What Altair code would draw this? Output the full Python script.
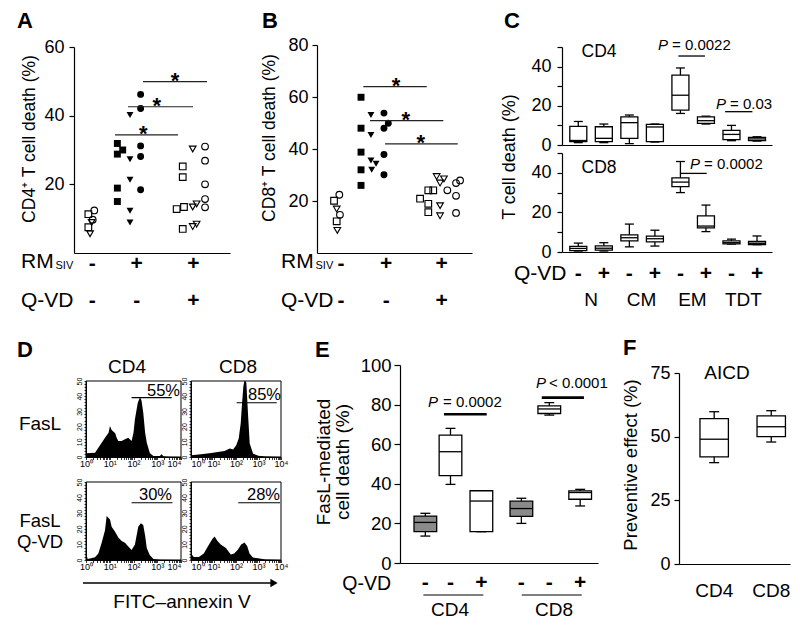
import altair as alt
import pandas as pd

FONT = "Liberation Sans"
W, H = 784, 613
M = 8


def P(v):
    return v - M


SHAPES = {'o': 'circle', 's': 'square', 'v': 'triangle-down'}

# ---------------- Panel A : CD4+ T cell death ----------------
A_pos = [1.30, 0.92, 1.20, 1.13, 0.92, 1.03,
         2.78, 3.12, 2.78, 2.78, 2.78, 3.59, 3.59, 3.59, 3.59, 3.59, 4.27, 4.27, 4.27, 4.27, 4.27,
         6.97, 6.97, 6.58, 7.05, 6.97, 7.61, 7.61, 7.86, 7.61, 7.86, 8.40, 8.40, 8.40, 8.40, 8.40]
A_val = [12.4, 11.3, 9.7, 8.9, 7.5, 5.6,
         31.9, 30.0, 28.8, 18.9, 15.0, 40.2, 27.3, 21.3, 12.3, 8.9, 46.2, 42.1, 31.2, 28.1, 18.4,
         25.2, 22.1, 12.8, 13.4, 7.0, 30.3, 13.4, 14.3, 7.7, 8.4, 31.0, 26.9, 20.0, 15.7, 13.3]
A_sym = ['o', 's', 'o', 'v', 's', 'v',
         's', 's', 's', 's', 's', 'v', 'v', 'v', 'v', 'v', 'o', 'o', 'o', 'o', 'o',
         's', 's', 's', 's', 's', 'v', 'v', 'v', 'v', 'v', 'o', 'o', 'o', 'o', 'o']
A_fill = [0, 0, 0, 0, 0, 0,
          1, 1, 1, 1, 1, 1, 1, 1, 1, 1, 1, 1, 1, 1, 1,
          0, 0, 0, 0, 0, 0, 0, 0, 0, 0, 0, 0, 0, 0, 0]
A_sig_x1 = [2.63, 3.46, 4.42]
A_sig_x2 = [6.67, 7.63, 8.53]
A_sig_y = [34.4, 42.6, 49.9]
A_star_x = [4.44, 5.30, 6.47]
A_lab_x = [1.17, 4.02, 7.65]
A_rm = ['-', '+', '+']
A_qvd = ['-', '-', '+']

# ---------------- Panel B : CD8+ T cell death ----------------
B_pos = [1.44, 1.10, 1.27, 1.48, 1.27, 1.31,
         2.84, 2.84, 2.84, 2.84, 2.84, 3.48, 3.48, 3.48, 3.81, 3.53, 4.32, 4.60, 4.32, 4.32, 4.32,
         7.18, 7.50, 6.65, 7.18, 7.18, 7.72, 8.19, 7.94, 7.94, 7.94, 8.41, 8.97, 9.23, 8.97, 8.97]
B_val = [22.4, 20.1, 16.9, 14.7, 12.2, 8.7,
         59.9, 48.0, 38.8, 32.0, 26.0, 53.1, 45.4, 35.6, 34.3, 32.0, 53.8, 49.9, 48.0, 37.9, 30.1,
         24.1, 24.1, 20.9, 18.9, 15.7, 29.4, 28.5, 26.9, 18.2, 14.3, 24.1, 26.9, 27.9, 22.0, 15.4]
B_sym = ['o', 's', 'v', 'o', 's', 'v',
         's', 's', 's', 's', 's', 'v', 'v', 'v', 'v', 'v', 'o', 'o', 'o', 'o', 'o',
         's', 's', 's', 's', 's', 'v', 'v', 'v', 'v', 'v', 'o', 'o', 'o', 'o', 'o']
B_fill = A_fill
B_sig_x1 = [2.99, 3.42, 4.39]
B_sig_x2 = [7.08, 8.15, 9.08]
B_sig_y = [64.0, 50.9, 42.0]
B_star_x = [5.10, 5.72, 6.69]
B_lab_x = [1.55, 4.46, 8.04]
B_rm = ['-', '+', '+']
B_qvd = ['-', '-', '+']

# ---------------- Panel C : subsets ----------------
C_pos = [1, 2, 3, 4, 5, 6, 7, 8]
C4_lo = [1.2, 1.2, 0.7, 1.5, 16.1, 10.7, 2.2, 2.0]
C4_q1 = [1.7, 1.7, 3.4, 1.7, 17.8, 11.0, 2.7, 2.2]
C4_med = [2.3, 3.4, 11.4, 9.2, 25.4, 12.4, 5.4, 3.1]
C4_q3 = [9.5, 9.3, 14.4, 10.5, 35.6, 14.4, 7.5, 3.9]
C4_hi = [12.0, 10.7, 15.3, 10.7, 39.3, 14.7, 10.0, 4.2]
C8_lo = [0.5, 0.5, 2.6, 3.0, 30.0, 10.3, 4.0, 3.7]
C8_q1 = [0.7, 0.9, 5.6, 5.1, 33.0, 12.2, 4.1, 3.8]
C8_med = [1.8, 1.9, 7.2, 6.7, 35.3, 13.1, 4.7, 4.4]
C8_q3 = [2.8, 3.1, 8.6, 8.0, 37.4, 18.2, 5.6, 5.3]
C8_hi = [4.5, 4.7, 14.1, 11.0, 45.7, 23.7, 6.5, 8.1]
C_qvd = ['-', '+', '-', '+', '-', '+', '-', '+']
C_subsets = ['N', 'CM', 'EM', 'TDT']
C_subset_x = [1.5, 3.48, 5.47, 7.47]
C4_sig_x1 = [4.92, 6.75]
C4_sig_x2 = [5.96, 7.82]
C4_sig_y = [45.4, 17.0]
C8_sig_x1 = [4.98]
C8_sig_x2 = [6.03]
C8_sig_y = [39.7]

# ---------------- Panel D : annexin V histograms (log10 position, events) ----------------
D1_lx = [0.0, 0.01, 0.38, 0.52, 0.66, 0.80, 0.95, 1.01, 1.08, 1.23, 1.29, 1.36, 1.50, 1.64, 1.78,
         1.92, 2.00, 2.06, 2.18, 2.28, 2.34, 2.41, 2.49, 2.56, 2.69, 2.84, 3.11, 3.18, 3.26, 3.46, 4.0]
D1_n = [0, 2.4, 2.8, 6.1, 9.4, 12.7, 16, 20.4, 17.8, 15.6, 12.7, 10.5, 10.5, 11.6, 12.7,
        10.5, 16, 24.8, 35.7, 39.7, 36.8, 29.2, 16, 9.4, 2.4, 0.7, 0.7, 1.8, 0.5, 0.2, 0]
D2_lx = [0.0, 0.01, 0.45, 0.90, 1.19, 1.49, 1.72, 1.87, 2.01, 2.12, 2.21, 2.27, 2.33, 2.37, 2.42,
         2.46, 2.54, 2.61, 2.76, 2.99, 3.30, 4.0]
D2_n = [0, 1.1, 1.8, 2.7, 3.3, 4.0, 5.6, 4.9, 7.8, 12.2, 22.2, 35.6, 46.7, 50, 50,
        48.9, 26.7, 8.9, 2.2, 0.9, 0.3, 0]
D3_lx = [0.0, 0.01, 0.07, 0.17, 0.38, 0.52, 0.66, 0.80, 0.87, 0.95, 1.01, 1.08, 1.23, 1.36, 1.50,
         1.64, 1.78, 1.92, 2.06, 2.20, 2.31, 2.41, 2.49, 2.56, 2.69, 2.84, 3.11, 4.0]
D3_n = [0, 4.1, 0.7, 1.0, 1.8, 4.1, 11, 19, 28.2, 27, 25.9, 21.3, 17.9, 14.4, 12.2,
        11, 8.7, 6.4, 9.9, 21.3, 23.6, 22.5, 15.6, 7.6, 3, 0.7, 0.2, 0]
D4_lx = [0.0, 0.01, 0.12, 0.35, 0.57, 0.80, 0.95, 1.05, 1.17, 1.32, 1.55, 1.77, 1.92, 2.08, 2.23,
         2.38, 2.50, 2.60, 2.75, 2.98, 3.30, 4.0]
D4_n = [0, 4.2, 1.9, 1.9, 4.2, 10, 13.5, 15, 12.3, 10, 7.7, 3.5, 4.2, 6.5, 10,
        11.2, 8.8, 4.2, 1.6, 1.2, 0.3, 0]
D_gate_lx1 = [1.92, 2.03, 1.92, 2.10]
D_gate_lx2 = [3.61, 3.81, 3.64, 3.96]
D_gate_y = [39.0, 35.7, 36.7, 36.7]
D_pct = ['55%', '85%', '30%', '28%']
D_ticks = ['10⁰', '10¹', '10²', '10³', '10⁴']

# ---------------- Panel E : FasL-mediated death ----------------
E_pos = [1.28, 2.55, 4.11, 6.13, 7.54, 9.10]
E_kind = ['medium', 'FasL', 'FasL', 'medium', 'FasL', 'FasL']
E_lo = [13.6, 39.7, 15.8, 20.0, 74.7, 28.8]
E_q1 = [15.8, 44.1, 15.8, 23.5, 75.5, 32.2]
E_med = [20.5, 56.2, 31.3, 27.5, 77.8, 35.6]
E_q3 = [23.7, 64.6, 36.5, 31.2, 79.4, 36.4]
E_hi = [25.1, 68.0, 36.5, 32.7, 81.0, 37.2]
E_qvd = ['-', '-', '+', '-', '-', '+']
E_sig_x1 = [2.22, 7.16]
E_sig_x2 = [4.38, 9.29]
E_sig_y = [75.1, 83.5]
E_grp_x1 = [1.18, 6.15]
E_grp_x2 = [4.21, 9.18]
E_grp_x = [2.53, 7.78]
E_grp = ['CD4', 'CD8']

# ---------------- Panel F : AICD ----------------
F_pos = [3.17, 8.31]
F_lab = ['CD4', 'CD8']
F_lo = [39.8, 47.9]
F_q1 = [42.1, 50.0]
F_med = [49.0, 53.9]
F_q3 = [57.1, 58.2]
F_hi = [59.8, 60.2]

# ======================= helpers =======================
layers = []


def sc(dom, r0, r1, typ='linear'):
    return alt.Scale(type=typ, domain=dom, range=[P(r0), P(r1)], nice=False, zero=False)


def yaxis(xpos, values, size=18, pad=4, tick=5, expr=None):
    kw = dict(orient='left', offset=-P(xpos), values=values, title=None, grid=False,
              labelFontSize=size, labelFont=FONT, labelColor='black', labelPadding=pad,
              tickSize=tick, tickColor='black', tickWidth=1.2, domainColor='black',
              domainWidth=1.2, labelFlush=False, labelOverlap=False)
    if expr:
        kw['labelExpr'] = expr
    return alt.Axis(**kw)


def xaxis(ypos):
    return alt.Axis(orient='bottom', offset=P(ypos) - H, labels=False, ticks=False, title=None,
                    grid=False, domainColor='black', domainWidth=1.2)


def txt(s, x, y, size=16, weight='normal', style='normal', align='center',
        baseline='alphabetic', angle=0):
    return alt.Chart(alt.Data(values=[{'t': s}])).mark_text(
        font=FONT, fontSize=size, fontWeight=weight, fontStyle=style, align=align,
        baseline=baseline, angle=angle, color='black'
    ).encode(text='t:N', x=alt.value(P(x)), y=alt.value(P(y)))


def strip_panel(pos, val, sym, fill, sx1, sx2, sy, starx, labx, rm, qvd, xs, ys, axx, axy):
    df = pd.DataFrame({'x': pos, 'y': val, 'sym': [SHAPES[s] for s in sym], 'f': fill})
    op = alt.Chart(df[df.f == 0]).mark_point(filled=False, size=44, color='black',
                                              strokeWidth=1.15, opacity=1).encode(
        x=alt.X('x:Q', scale=xs, axis=axx), y=alt.Y('y:Q', scale=ys, axis=axy),
        shape=alt.Shape('sym:N', scale=None))
    fl = alt.Chart(df[df.f == 1]).mark_point(filled=True, size=48, color='black', opacity=1).encode(
        x=alt.X('x:Q', scale=xs, axis=None), y=alt.Y('y:Q', scale=ys, axis=None),
        shape=alt.Shape('sym:N', scale=None))
    sig = pd.DataFrame({'x1': sx1, 'x2': sx2, 'y': sy, 'sx': starx})
    rl = alt.Chart(sig).mark_rule(color='#222', strokeWidth=1.2).encode(
        x=alt.X('x1:Q', scale=xs, axis=None), x2='x2:Q', y=alt.Y('y:Q', scale=ys, axis=None))
    st = alt.Chart(sig).mark_text(text='*', font=FONT, fontSize=22, fontWeight='bold',
                                  baseline='alphabetic', dy=6, color='black').encode(
        x=alt.X('sx:Q', scale=xs, axis=None), y=alt.Y('y:Q', scale=ys, axis=None))
    lab = pd.DataFrame({'x': labx, 'rm': rm, 'q': qvd})
    r1 = alt.Chart(lab).mark_text(font=FONT, fontSize=21, fontWeight='bold',
                                  baseline='alphabetic', color='black').encode(
        x=alt.X('x:Q', scale=xs, axis=None), y=alt.value(P(269.5)), text='rm:N')
    r2 = alt.Chart(lab).mark_text(font=FONT, fontSize=21, fontWeight='bold',
                                  baseline='alphabetic', color='black').encode(
        x=alt.X('x:Q', scale=xs, axis=None), y=alt.value(P(307)), text='q:N')
    return [op, fl, rl, st, r1, r2]


def box_layers(df, xs, ys, axx, axy, hw, cw, sw, fill=None):
    base = alt.Chart(df).transform_calculate(
        xl=f"datum.x - {hw}", xr=f"datum.x + {hw}",
        cl=f"datum.x - {cw}", cr=f"datum.x + {cw}")

    def X(f, ax=None):
        return alt.X(f, type='quantitative', scale=xs, axis=ax)

    def Y(f, ax=None):
        return alt.Y(f, type='quantitative', scale=ys, axis=ax)

    out = [
        base.mark_rule(color='black', strokeWidth=sw).encode(x=X('x', axx), y=Y('lo', axy), y2='hi'),
        base.mark_rule(color='black', strokeWidth=sw).encode(x=X('cl'), x2='cr', y=Y('hi')),
        base.mark_rule(color='black', strokeWidth=sw).encode(x=X('cl'), x2='cr', y=Y('lo')),
    ]
    rect = base.mark_rect(stroke='black', strokeWidth=sw, fill='white')
    enc = dict(x=X('xl'), x2='xr', y=Y('q1'), y2='q3')
    if fill is not None:
        enc['fill'] = fill
    out.append(rect.encode(**enc))
    out.append(base.mark_rule(color='black', strokeWidth=sw).encode(x=X('xl'), x2='xr', y=Y('med')))
    return out


# ======================= Panel A =======================
xA = sc([0, 10], 74, 230)
yA = sc([0, 60], 253, 47)
layers += strip_panel(A_pos, A_val, A_sym, A_fill, A_sig_x1, A_sig_x2, A_sig_y, A_star_x,
                      A_lab_x, A_rm, A_qvd, xA, yA, xaxis(253), yaxis(74, [20, 40, 60], pad=5))
layers += [txt('A', 17, 28, 22, 'bold', align='left'),
           txt('CD4⁺ T cell death (%)', 30, 139, 17.5, angle=270, baseline='middle'),
           txt('RM', 21, 268, 21, align='left'), txt('SIV', 55.5, 269, 11, align='left'),
           txt('Q-VD', 21, 307, 21, align='left')]

# ======================= Panel B =======================
xB = sc([0, 10], 317, 472)
yB = sc([0, 80], 253, 45)
layers += strip_panel(B_pos, B_val, B_sym, B_fill, B_sig_x1, B_sig_x2, B_sig_y, B_star_x,
                      B_lab_x, B_rm, B_qvd, xB, yB, xaxis(253), yaxis(317, [20, 40, 60, 80]))
layers += [txt('B', 262, 28, 22, 'bold', align='left'),
           txt('CD8⁺ T cell death (%)', 270, 138, 17.5, angle=270, baseline='middle'),
           txt('RM', 281, 268, 21, align='left'), txt('SIV', 315.5, 269, 11, align='left'),
           txt('Q-VD', 281, 307, 21, align='left')]

# ======================= Panel C =======================
xC = sc([0.3615, 8.587], 562, 772)
yCt = sc([0, 50], 145, 47)
yCb = sc([0, 50], 252, 153)
c_expr = "datum.value % 20 === 0 ? datum.label : ''"
dfC4 = pd.DataFrame({'x': C_pos, 'lo': C4_lo, 'q1': C4_q1, 'med': C4_med, 'q3': C4_q3, 'hi': C4_hi})
dfC8 = pd.DataFrame({'x': C_pos, 'lo': C8_lo, 'q1': C8_q1, 'med': C8_med, 'q3': C8_q3, 'hi': C8_hi})
layers += box_layers(dfC4, xC, yCt, xaxis(145),
                     yaxis(562, [0, 10, 20, 30, 40, 50], pad=6, expr=c_expr), 0.333, 0.176, 1.3)
layers += box_layers(dfC8, xC, yCb, xaxis(252),
                     yaxis(562, [0, 10, 20, 30, 40, 50], pad=6, expr=c_expr), 0.333, 0.176, 1.3)
sC4 = pd.DataFrame({'x1': C4_sig_x1, 'x2': C4_sig_x2, 'y': C4_sig_y})
sC8 = pd.DataFrame({'x1': C8_sig_x1, 'x2': C8_sig_x2, 'y': C8_sig_y})
layers += [
    alt.Chart(sC4).mark_rule(color='black', strokeWidth=1.3).encode(
        x=alt.X('x1:Q', scale=xC, axis=None), x2='x2:Q', y=alt.Y('y:Q', scale=yCt, axis=None)),
    alt.Chart(sC8).mark_rule(color='black', strokeWidth=1.3).encode(
        x=alt.X('x1:Q', scale=xC, axis=None), x2='x2:Q', y=alt.Y('y:Q', scale=yCb, axis=None)),
    alt.Chart(pd.DataFrame({'x': C_pos, 'q': C_qvd})).mark_text(
        font=FONT, fontSize=21, fontWeight='bold', baseline='alphabetic', color='black').encode(
        x=alt.X('x:Q', scale=xC, axis=None), y=alt.value(P(279.5)), text='q:N'),
    alt.Chart(pd.DataFrame({'x': C_subset_x, 's': C_subsets})).mark_text(
        font=FONT, fontSize=19, baseline='alphabetic', color='black').encode(
        x=alt.X('x:Q', scale=xC, axis=None), y=alt.value(P(305.5)), text='s:N'),
]
layers += [txt('C', 504, 28, 22, 'bold', align='left'),
           txt('T cell death (%)', 510, 157, 18, angle=270, baseline='middle'),
           txt('CD4', 599, 57, 17.5), txt('CD8', 599, 173, 17.5),
           txt('P', 658, 50, 15, style='italic', align='left'),
           txt('= 0.0022', 672, 50, 15, align='left'),
           txt('P', 716, 108.5, 15, style='italic', align='left'),
           txt('= 0.03', 730, 108.5, 15, align='left'),
           txt('P', 690, 168.5, 15, style='italic', align='left'),
           txt('= 0.0002', 704, 168.5, 15, align='left'),
           txt('Q-VD', 514, 280, 21, align='left')]

# ======================= Panel D =======================
LOG_TICKS = [m * 10 ** k for k in range(4) for m in range(1, 10)] + [10000]
log_expr = " : ".join(f"datum.value == {10 ** i} ? '{lab}'" for i, lab in enumerate(D_ticks)) + " : ''"
hist_specs = [
    (D1_lx, D1_n, 86, 181, 381, 457, 'right'),
    (D2_lx, D2_n, 191, 281, 381, 457, 'left'),
    (D3_lx, D3_n, 86, 181, 482, 560, 'right'),
    (D4_lx, D4_n, 191, 281, 482, 560, 'left'),
]
for i, (lx, cnt, x0, x1, yt, yb, side) in enumerate(hist_specs):
    xs = sc([1, 10000], x0, x1, 'log')
    ys = sc([0, 50], yb, yt)
    inner = 'datum.value == 10000' if side == 'right' else 'datum.value == 1'
    axx = alt.Axis(orient='bottom', offset=P(yb) - H, values=LOG_TICKS, labelExpr=log_expr,
                   labelAlign={'condition': {'test': inner, 'value': side}, 'value': 'center'},
                   title=None, grid=False, tickSize=2.5, tickColor='black', tickWidth=0.8,
                   labelFontSize=9, labelFont=FONT, labelColor='black', labelPadding=0,
                   domainColor='black', domainWidth=1, labelFlush=False, labelOverlap=False)
    axy = alt.Axis(orient='left', offset=-P(x0), values=list(range(0, 51, 2)),
                   labelExpr="datum.value % 10 === 0 ? datum.label : ''", title=None, grid=False,
                   tickSize=2, tickColor='black', tickWidth=0.8, labelFontSize=7, labelFont=FONT,
                   labelColor='black', labelAngle=270, labelAlign='center', labelBaseline='bottom',
                   labelPadding=2, domainColor='black', domainWidth=1, labelFlush=False,
                   labelOverlap=False)
    dfh = pd.DataFrame({'lx': lx, 'n': cnt})
    layers.append(alt.Chart(dfh).transform_calculate(v='pow(10, datum.lx)').mark_area(
        color='black', interpolate='linear', opacity=1).encode(
        x=alt.X('v:Q', scale=xs, axis=axx), y=alt.Y('n:Q', scale=ys, axis=axy)))
    layers.append(alt.Chart(alt.Data(values=[{}])).mark_rect(
        fillOpacity=0, stroke='black', strokeWidth=1).encode(
        x=alt.value(P(x0)), x2=alt.value(P(x1)), y=alt.value(P(yt)), y2=alt.value(P(yb))))
    dg = pd.DataFrame({'a': [D_gate_lx1[i]], 'b': [D_gate_lx2[i]], 'y': [D_gate_y[i]]})
    layers.append(alt.Chart(dg).transform_calculate(
        va='pow(10, datum.a)', vb='pow(10, datum.b)').mark_rule(color='black', strokeWidth=1.2).encode(
        x=alt.X('va:Q', scale=xs, axis=None), x2='vb:Q', y=alt.Y('y:Q', scale=ys, axis=None)))

pct_pos = [(180, 396), (281, 400), (172, 500), (280, 500)]
for lab, (px, py) in zip(D_pct, pct_pos):
    layers.append(txt(lab, px, py, 16.5, align='right'))
layers += [txt('D', 17, 357, 22, 'bold', align='left'),
           txt('CD4', 127, 373, 19), txt('CD8', 238, 373, 19),
           txt('FasL', 40, 430, 19), txt('FasL', 40, 527, 18.5), txt('Q-VD', 40, 547.5, 18.5),
           txt('FITC–annexin V', 182, 608, 19),
           alt.Chart(alt.Data(values=[{}])).mark_rule(color='black', strokeWidth=1.3).encode(
               x=alt.value(P(83)), x2=alt.value(P(272)), y=alt.value(P(583))),
           alt.Chart(alt.Data(values=[{}])).mark_point(
               shape='triangle-right', filled=True, size=70, color='black', opacity=1).encode(
               x=alt.value(P(274)), y=alt.value(P(583)))]

# ======================= Panel E =======================
xE = sc([0, 10], 400, 598)
yE = sc([0, 100], 563, 365)
dfE = pd.DataFrame({'x': E_pos, 'kind': E_kind, 'lo': E_lo, 'q1': E_q1, 'med': E_med,
                    'q3': E_q3, 'hi': E_hi})
efill = alt.Fill('kind:N', scale=alt.Scale(domain=['medium', 'FasL'], range=['#8a8a8a', 'white']),
                 legend=None)
layers += box_layers(dfE, xE, yE, xaxis(563),
                     yaxis(400, [0, 20, 40, 60, 80, 100], size=18.5, pad=3, tick=6),
                     0.573, 0.25, 1.3, fill=efill)
sE = pd.DataFrame({'x1': E_sig_x1, 'x2': E_sig_x2, 'y': E_sig_y})
gE = pd.DataFrame({'x1': E_grp_x1, 'x2': E_grp_x2, 'x': E_grp_x, 'g': E_grp})
layers += [
    alt.Chart(sE).mark_rule(color='black', strokeWidth=2.6).encode(
        x=alt.X('x1:Q', scale=xE, axis=None), x2='x2:Q', y=alt.Y('y:Q', scale=yE, axis=None)),
    alt.Chart(pd.DataFrame({'x': E_pos, 'q': E_qvd})).mark_text(
        font=FONT, fontSize=21, fontWeight='bold', baseline='alphabetic', color='black').encode(
        x=alt.X('x:Q', scale=xE, axis=None), y=alt.value(P(588.5)), text='q:N'),
    alt.Chart(gE).mark_rule(color='black', strokeWidth=1).encode(
        x=alt.X('x1:Q', scale=xE, axis=None), x2='x2:Q', y=alt.value(P(595))),
    alt.Chart(gE).mark_text(font=FONT, fontSize=19, baseline='alphabetic', color='black').encode(
        x=alt.X('x:Q', scale=xE, axis=None), y=alt.value(P(616)), text='g:N'),
]
layers += [txt('E', 315, 357, 22, 'bold', align='left'),
           txt('FasL-mediated', 324, 462, 19, angle=270, baseline='middle'),
           txt('cell death (%)', 343, 462, 19, angle=270, baseline='middle'),
           txt('P', 428, 407, 15, style='italic', align='left'),
           txt('= 0.0002', 443, 407, 15, align='left'),
           txt('P', 536, 388, 15, style='italic', align='left'),
           txt('< 0.0001', 549, 388, 15, align='left'),
           txt('Q-VD', 391, 589.5, 19.5, align='right')]

# ======================= Panel F =======================
xF = sc([0, 10], 679, 790)
yF = sc([0, 75], 564, 373)
dfF = pd.DataFrame({'x': F_pos, 'lo': F_lo, 'q1': F_q1, 'med': F_med, 'q3': F_q3, 'hi': F_hi,
                    'lab': F_lab})
layers += box_layers(dfF, xF, yF, xaxis(564), yaxis(679, [0, 25, 50, 75], size=18, pad=4),
                     1.28, 0.45, 1.3)
layers += [
    alt.Chart(dfF).mark_text(font=FONT, fontSize=19, baseline='alphabetic', color='black').encode(
        x=alt.X('x:Q', scale=xF, axis=None), y=alt.value(P(597)), text='lab:N'),
    txt('F', 623, 355, 22, 'bold', align='left'),
    txt('AICD', 727, 379, 19),
    txt('Preventive effect (%)', 631, 465, 18.5, angle=270, baseline='middle'),
]

chart = alt.layer(*layers).resolve_scale(
    x='independent', y='independent'
).resolve_axis(
    x='independent', y='independent'
).properties(
    width=W, height=H, padding=0, autosize=alt.AutoSizeParams(type='none')
).configure(font=FONT).configure_view(strokeWidth=0)

chart.save("out.html", embed_options={"renderer": "svg", "actions": False})
